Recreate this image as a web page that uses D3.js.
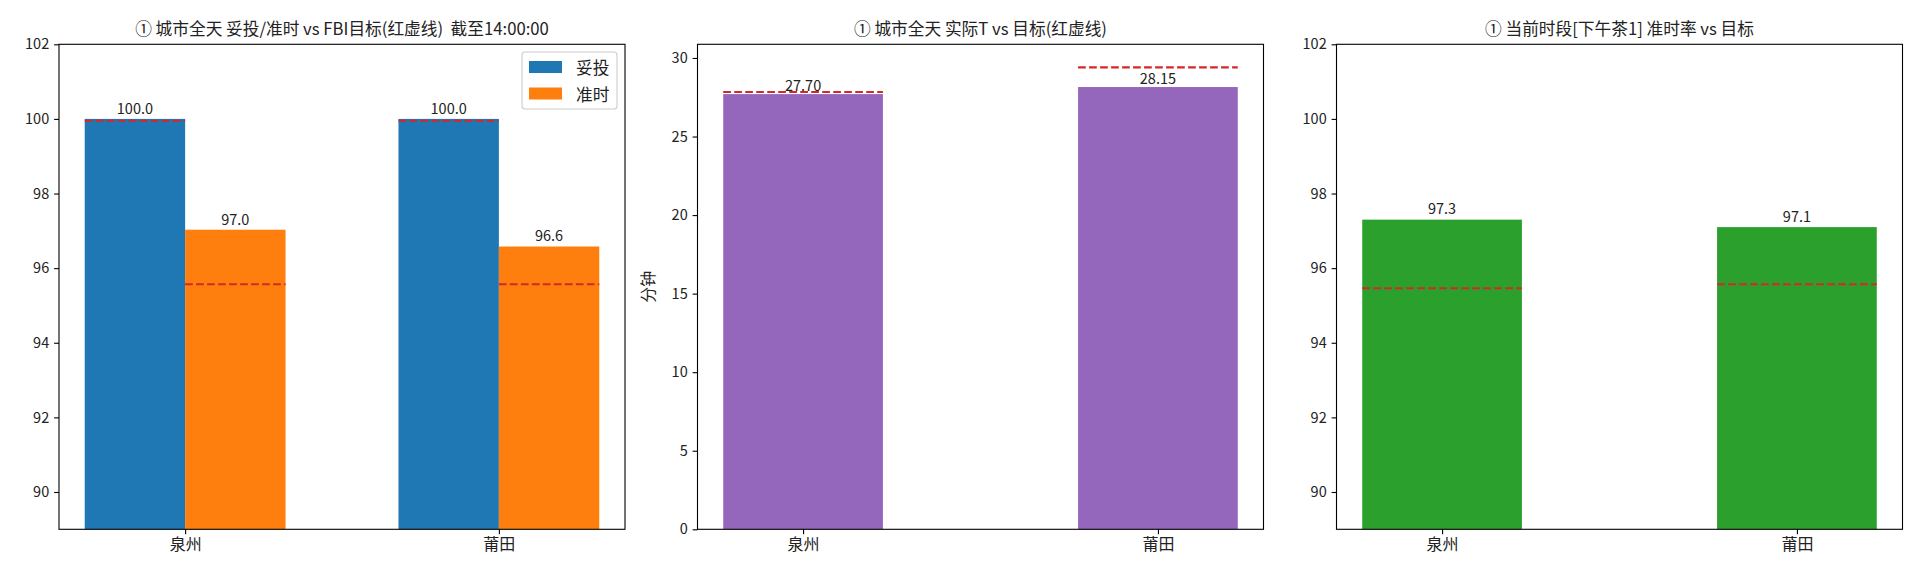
<!DOCTYPE html>
<html>
<head>
<meta charset="utf-8">
<script src="https://cdn.jsdelivr.net/npm/d3@7"></script>
<style>
  body { margin: 0; background: #fff; }
  text { font-family: "Noto Sans CJK SC", "DejaVu Sans", sans-serif; }
</style>
</head>
<body>
<svg id="viz"></svg>
<script>
const svg = d3.select("#viz").attr("width", 1920).attr("height", 576);

// data
const cities = ["泉州", "莆田"];
const deliveredRate = [100.0, 100.0];     // 妥投
const onTimeRate = [97.03, 96.58];        // 准时
const deliveredTarget = [99.95, 99.95];
const onTimeTarget = [95.57, 95.57];
const actualT = [27.70, 28.15];
const targetT = [27.83, 29.40];
const slotOnTime = [97.3, 97.1];
const slotTarget = [95.46, 95.57];
const rateTicks = [90, 92, 94, 96, 98, 100, 102];
const minuteTicks = [0, 5, 10, 15, 20, 25, 30];

const titles = [
  "① 城市全天 妥投/准时 vs FBI目标(红虚线)\u00a0 截至14:00:00",
  "① 城市全天 实际T vs 目标(红虚线)",
  "① 当前时段[下午茶1] 准时率 vs 目标"
];

const BLUE = "#1f77b4", ORANGE = "#ff7f0e", PURPLE = "#9467bd", GREEN = "#2ca02c", RED = "#d62728";

// layout
const lefts = [59, 697.5, 1336.5];
const W = 566, plotTop = 44.3, plotBottom = 529.3;

function xScaleFor(left, lo, hi) {
  const pad = (hi - lo) * 0.05;
  return d3.scaleLinear().domain([lo - pad, hi + pad]).range([left, left + W]);
}

function drawAxes(i, x, y, yTicks, fmt) {
  const g = svg.append("g");
  g.append("g")
    .attr("transform", `translate(0,${plotBottom})`)
    .call(d3.axisBottom(x).tickValues(d3.range(cities.length)).tickFormat(d => cities[d])
      .tickSizeOuter(0).tickSize(4.9).tickPadding(4.5))
    .call(a => a.select(".domain").remove())
    .call(a => a.selectAll("text").attr("font-size", 16).attr("fill", "#222"));
  g.append("g")
    .attr("transform", `translate(${lefts[i]},0)`)
    .call(d3.axisLeft(y).tickValues(yTicks).tickFormat(fmt)
      .tickSizeOuter(0).tickSize(4.9).tickPadding(4.9))
    .call(a => a.select(".domain").remove())
    .call(a => a.selectAll("text").attr("font-size", 14.5).attr("fill", "#222"));
  g.selectAll(".tick line").attr("stroke", "#000").attr("stroke-width", 1.1);
  g.append("rect")
    .attr("x", lefts[i]).attr("y", plotTop)
    .attr("width", W).attr("height", plotBottom - plotTop)
    .attr("fill", "none").attr("stroke", "#000").attr("stroke-width", 1.1);
  g.append("text")
    .attr("x", lefts[i] + W / 2).attr("y", plotTop - 9)
    .attr("text-anchor", "middle").attr("font-size", 16.7)
    .attr("fill", "#222")
    .text(titles[i]);
}

function drawBars(x, y, values, targets, offset, width, color, digits, labelGap) {
  const g = svg.append("g");
  g.selectAll("rect").data(values).enter().append("rect")
    .attr("x", (d, k) => x(k + offset))
    .attr("y", d => y(d))
    .attr("width", (d, k) => x(k + offset + width) - x(k + offset))
    .attr("height", d => y.range()[0] - y(d))
    .attr("fill", color);
  g.selectAll("line").data(targets).enter().append("line")
    .attr("x1", (d, k) => x(k + offset))
    .attr("x2", (d, k) => x(k + offset + width))
    .attr("y1", d => y(d)).attr("y2", d => y(d))
    .attr("stroke", RED).attr("stroke-width", 2.08)
    .attr("stroke-dasharray", "7.7,3.3");
  g.selectAll("text").data(values).enter().append("text")
    .attr("x", (d, k) => x(k + offset + width / 2))
    .attr("y", d => y(d) - labelGap)
    .attr("text-anchor", "middle").attr("font-size", 14.5)
    .attr("fill", "#222")
    .text(d => d.toFixed(digits));
}

// panel 1: 妥投 / 准时
const w1 = 0.32;
const x1 = xScaleFor(lefts[0], -w1, cities.length - 1 + w1);
const y1 = d3.scaleLinear().domain([89, 102]).range([plotBottom, plotTop]);
drawBars(x1, y1, deliveredRate, deliveredTarget, -w1, w1, BLUE, 1, 5.2);
drawBars(x1, y1, onTimeRate, onTimeTarget, 0, w1, ORANGE, 1, 5.2);
drawAxes(0, x1, y1, rateTicks, d => d);

// legend
const legend = svg.append("g").attr("transform", "translate(522,52)");
legend.append("rect")
  .attr("width", 95).attr("height", 57).attr("rx", 3)
  .attr("fill", "#fff").attr("fill-opacity", 0.8)
  .attr("stroke", "#cccccc").attr("stroke-width", 1.1);
[["妥投", BLUE], ["准时", ORANGE]].forEach(([name, c], k) => {
  legend.append("rect").attr("x", 7).attr("y", 9 + k * 26.5)
    .attr("width", 33).attr("height", 12).attr("fill", c);
  legend.append("text").attr("x", 54).attr("y", 15 + k * 26.5)
    .attr("dominant-baseline", "central").attr("font-size", 16.7)
    .attr("fill", "#222").text(name);
});

// panel 2: 实际T vs 目标
const w2 = 0.45;
const x2 = xScaleFor(lefts[1], -w2 / 2, cities.length - 1 + w2 / 2);
const y2 = d3.scaleLinear().domain([0, d3.max(targetT) * 1.05]).range([plotBottom, plotTop]);
drawBars(x2, y2, actualT, targetT, -w2 / 2, w2, PURPLE, 2, 3.3);
drawAxes(1, x2, y2, minuteTicks, d => d);
svg.append("text")
  .attr("transform", `translate(${lefts[1] - 44},${(plotTop + plotBottom) / 2}) rotate(-90)`)
  .attr("text-anchor", "middle").attr("font-size", 16)
  .attr("fill", "#222")
  .text("分钟");

// panel 3: 当前时段准时率
const x3 = xScaleFor(lefts[2], -w2 / 2, cities.length - 1 + w2 / 2);
const y3 = d3.scaleLinear().domain([89, 102]).range([plotBottom, plotTop]);
drawBars(x3, y3, slotOnTime, slotTarget, -w2 / 2, w2, GREEN, 1, 5.2);
drawAxes(2, x3, y3, rateTicks, d => d);
</script>
</body>
</html>
